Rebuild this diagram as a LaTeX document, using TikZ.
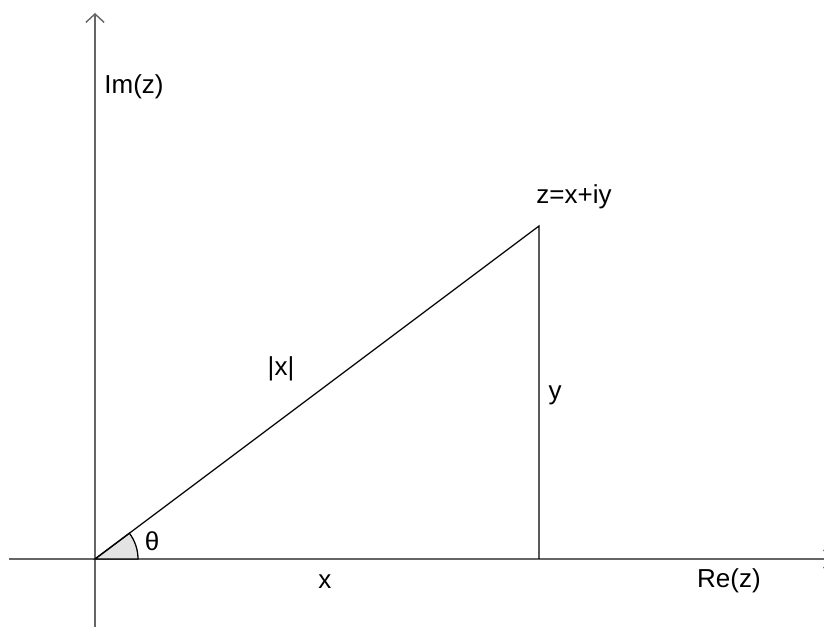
\documentclass[tikz,border=0pt]{standalone}
\usepackage{fontspec}
\setmainfont{Liberation Sans}
\usetikzlibrary{arrows.meta}
\begin{document}
\begin{tikzpicture}[font=\fontsize{18.5}{22}\selectfont,
  axe/.style={draw=black!60, line width=1pt, -{Straight Barb[length=6pt,width=13pt]}},
  trait/.style={draw=black, line width=0.9pt}]
	\useasboundingbox (-2.375,-1.7) rectangle (18.225,13.975);
	% axes
	\coordinate (O) at (0,0);
	\coordinate (xg) at (-2.15,0);
	\coordinate (xd) at (18.45,0);
	\coordinate (yb) at (0,-1.7);
	\coordinate (yh) at (0,13.65);
	\draw[axe] (xg) -- (xd);
	\draw[axe] (yb) -- (yh);
	\node (re) at (15.85,-0.55) {Re(z)};
	\node (im) at (0.975,11.8) {Im(z)};
	% triangle
	\coordinate (P) at (11.1,8.325);
	\coordinate (F) at (11.1,0);
	\draw[trait, fill=black!11] (O) -- (1.075,0) arc (0:36.87:1.075) -- cycle;
	\draw[trait] (O) -- (P) -- (F);
	\node (z) at (11.975,9.05) {z=x+iy};
	\node (mod) at (4.65,4.75) {|x|};
	\node (y) at (11.5,4.1) {y};
	\node (x) at (5.75,-0.575) {x};
	\node (theta) at (1.425,0.45) {θ};
\end{tikzpicture}
\end{document}
